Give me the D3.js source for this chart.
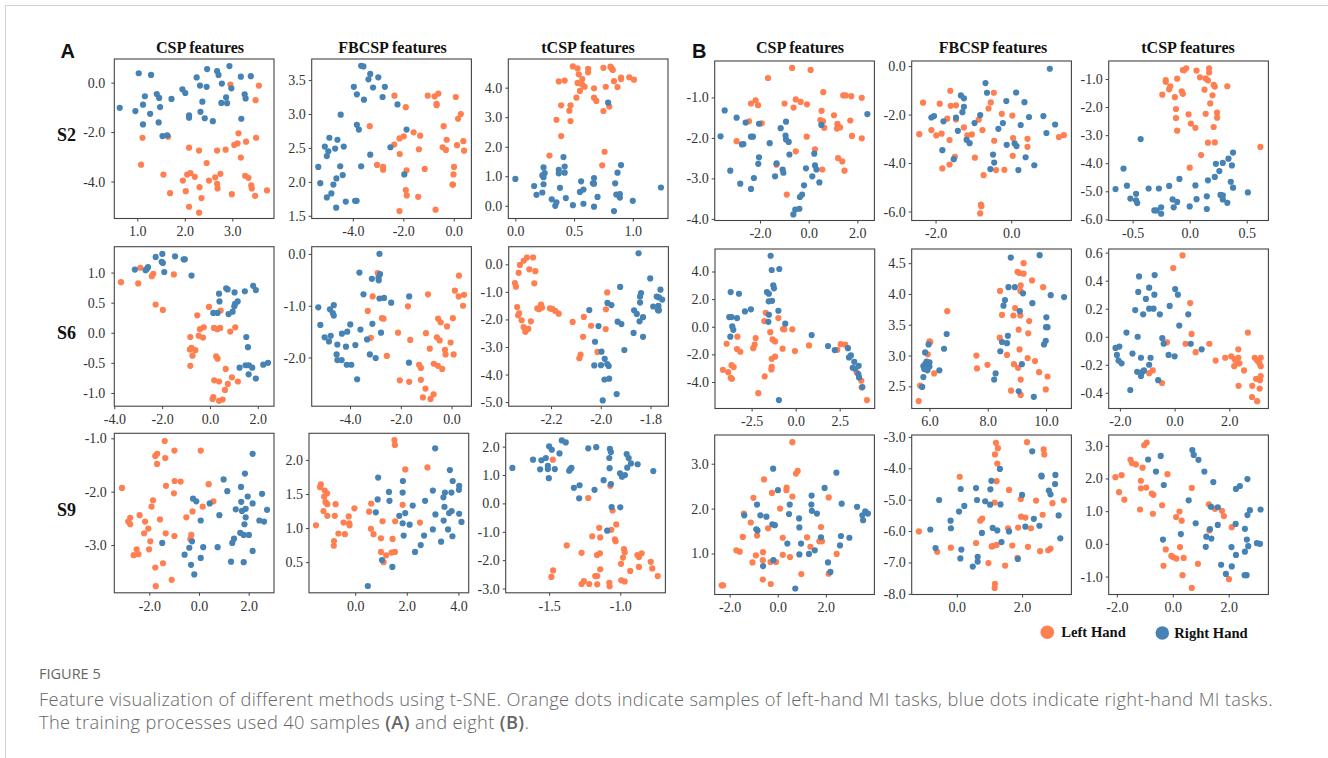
<!DOCTYPE html>
<html>
<head>
<meta charset="utf-8">
<script src="https://cdn.jsdelivr.net/npm/d3@7"></script>
<style>
  body { margin: 0; background: #fff; }
  svg { display: block; }
  .tick text { font-family: "Liberation Serif", serif; font-size: 14px; fill: #333; }
  .head { font-family: "Liberation Serif", serif; font-weight: 700; fill: #111; }
  .caption { font-family: "Open Sans", sans-serif; fill: #666; }
</style>
</head>
<body>
<div id="chart"></div>
<script>
// group A, S2
const aS2CspLeft = [[2.96,-0.08],[3.56,-0.12],[3.49,-0.71],[1.11,-2.23],[1.65,-2.19],[3.13,-2.05],[3.50,-2.23],[3.29,-2.39],[3.11,-2.46],[3.04,-2.52],[2.09,-2.63],[2.30,-2.75],[2.68,-2.75],[2.86,-2.71],[3.18,-3.03],[1.08,-3.32],[2.46,-3.25],[1.55,-3.72],[2.05,-3.72],[2.12,-3.66],[2.21,-3.81],[1.96,-3.96],[2.75,-3.69],[2.64,-3.83],[2.51,-3.96],[3.27,-3.77],[3.34,-3.85],[3.40,-4.16],[3.41,-4.28],[2.68,-4.09],[2.69,-4.28],[2.31,-4.23],[2.02,-4.39],[1.69,-4.47],[3.73,-4.36],[2.99,-4.51],[3.48,-4.58],[2.35,-4.67],[2.09,-5.02],[2.30,-5.26]];
const aS2CspRight = [[0.63,-1.02],[1.03,0.38],[1.29,0.31],[1.16,-0.55],[1.12,-0.89],[0.96,-1.15],[1.12,-1.69],[1.27,-1.26],[1.41,-0.46],[1.46,-0.62],[1.48,-0.99],[1.45,-1.61],[1.53,-2.16],[1.63,-2.13],[1.72,-0.66],[1.95,-0.27],[2.01,-0.42],[2.09,-1.32],[2.09,-1.42],[2.25,0.21],[2.32,-0.12],[2.46,-0.17],[2.47,0.55],[2.37,-0.77],[2.33,-1.18],[2.42,-1.44],[2.59,-1.56],[2.68,0.47],[2.71,0.31],[2.78,-0.04],[2.87,-0.60],[2.77,-0.82],[2.89,-0.83],[2.94,0.67],[2.98,-0.23],[3.18,0.24],[3.39,0.26],[3.26,-0.47],[3.28,-0.64],[3.19,-1.46]];
const aS2FbLeft = [[-3.33,2.82],[-3.04,2.25],[-2.35,3.27],[-1.03,3.27],[-0.76,3.26],[-0.61,3.30],[-0.68,3.15],[-0.68,3.13],[0.08,3.25],[-1.90,3.10],[0.28,3.00],[0.17,2.93],[-0.40,2.82],[-1.59,2.73],[-1.33,2.68],[-2.15,2.64],[-1.98,2.67],[-2.36,2.55],[-0.28,2.62],[-0.44,2.51],[-0.31,2.47],[0.13,2.54],[0.38,2.60],[0.41,2.46],[-1.38,2.48],[-2.14,2.41],[-2.80,2.22],[-2.80,2.18],[-1.87,2.17],[-1.15,2.19],[0.01,2.22],[-0.01,2.11],[-0.05,1.96],[-0.03,1.96],[-1.90,1.88],[-1.86,1.80],[-1.41,1.78],[-2.15,1.57],[-0.72,1.59]];
const aS2FbRight = [[-5.37,2.22],[-5.29,1.98],[-5.03,1.77],[-4.85,1.83],[-4.77,1.96],[-4.65,2.05],[-4.50,2.23],[-4.40,2.10],[-4.66,1.62],[-4.28,1.71],[-3.91,1.72],[-3.85,1.72],[-3.67,2.23],[-3.31,2.40],[-5.03,2.38],[-4.97,2.45],[-4.93,2.65],[-5.11,2.52],[-4.70,2.49],[-4.61,2.62],[-4.36,2.52],[-4.48,2.99],[-3.84,2.84],[-3.76,2.77],[-3.96,3.40],[-3.84,3.29],[-3.56,3.21],[-3.20,3.39],[-3.38,3.51],[-3.31,3.59],[-3.67,3.71],[-3.58,3.70],[-2.99,3.54],[-2.82,3.25],[-2.73,3.40],[-2.23,3.14],[-1.87,2.77],[-2.51,2.51],[-1.96,2.11]];
const aS2TLeft = [[0.49,4.72],[0.53,4.65],[0.62,4.64],[0.62,4.52],[0.54,4.45],[0.57,4.29],[0.53,4.16],[0.57,4.10],[0.59,4.03],[0.55,3.89],[0.37,4.21],[0.42,4.24],[0.75,4.67],[0.81,4.71],[0.82,4.65],[0.83,4.60],[0.84,4.22],[0.87,4.02],[0.77,4.03],[0.67,3.98],[0.90,4.34],[0.90,4.29],[0.97,4.35],[1.01,4.27],[0.52,3.66],[0.67,3.66],[0.69,3.55],[0.39,3.40],[0.47,3.40],[0.46,3.22],[0.80,3.36],[0.75,3.21],[0.35,2.91],[0.47,2.87],[0.39,2.36],[0.76,1.83],[0.29,1.70],[0.74,1.37]];
const aS2TRight = [[0.79,3.49],[0.00,0.91],[0.16,0.67],[0.18,0.37],[0.23,0.45],[0.24,1.30],[0.23,1.03],[0.25,1.11],[0.24,0.97],[0.24,0.73],[0.37,1.22],[0.37,1.10],[0.41,1.65],[0.42,1.33],[0.42,1.12],[0.38,0.61],[0.31,0.22],[0.35,0.12],[0.34,0.00],[0.43,0.26],[0.49,0.02],[0.58,0.07],[0.56,0.83],[0.55,0.47],[0.58,0.55],[0.66,0.76],[0.67,0.94],[0.67,0.75],[0.70,0.30],[0.67,-0.03],[0.84,-0.18],[0.85,0.76],[0.87,1.12],[0.90,1.38],[0.86,0.38],[0.89,0.40],[0.89,0.28],[1.00,0.17],[1.24,0.62]];
// group B, S2
const bS2CspLeft = [[-0.68,-0.27],[0.08,-0.32],[-1.67,-0.52],[0.60,-0.87],[1.42,-0.95],[1.52,-0.95],[1.75,-0.97],[2.18,-1.01],[-0.53,-1.05],[-0.33,-1.11],[-2.18,-1.07],[-2.37,-1.15],[-2.08,-1.19],[-0.99,-1.15],[-0.62,-1.25],[-0.07,-1.17],[0.53,-1.33],[1.04,-1.44],[0.48,-1.56],[0.59,-1.59],[1.71,-1.57],[1.18,-1.65],[1.16,-1.77],[1.29,-1.74],[0.64,-1.75],[-2.45,-1.59],[-1.93,-1.64],[1.78,-1.95],[2.18,-2.01],[-0.08,-1.97],[-2.96,-2.08],[0.26,-2.28],[-0.53,-2.33],[1.21,-2.50],[1.38,-2.58],[1.47,-2.81],[0.56,-2.78],[-1.32,-2.66],[-0.90,-3.40]];
const bS2CspRight = [[-3.45,-1.32],[-2.96,-1.50],[-2.59,-1.62],[-2.04,-1.65],[-3.62,-1.96],[-2.37,-1.97],[-2.29,-1.97],[-2.74,-2.16],[-2.68,-2.15],[-1.60,-2.13],[-1.15,-1.76],[-0.93,-1.60],[-0.95,-1.94],[-0.93,-2.04],[-0.82,-2.10],[-0.79,-2.41],[-2.04,-2.48],[-2.07,-2.64],[-1.32,-2.63],[-3.22,-2.81],[-2.25,-2.99],[-2.81,-3.13],[-2.37,-3.26],[-1.38,-2.95],[-1.07,-2.78],[-1.04,-2.86],[-0.11,-2.75],[0.23,-2.39],[0.26,-2.68],[0.32,-2.78],[0.15,-2.95],[0.44,-3.10],[-0.19,-3.17],[-0.27,-3.40],[-0.36,-3.46],[-0.55,-3.77],[-0.38,-3.75],[-0.63,-3.89],[0.52,-1.68],[2.41,-1.41]];
const bS2FbLeft = [[-2.43,-2.81],[-2.33,-1.51],[-1.89,-1.55],[-1.61,-1.02],[-1.60,-1.64],[-1.46,-1.62],[-2.11,-2.64],[-1.98,-2.86],[-1.84,-2.79],[-1.69,-2.17],[-1.46,-2.20],[-1.25,-2.53],[-1.16,-2.86],[-1.04,-2.82],[-1.63,-3.05],[-1.82,-4.22],[-1.63,-4.06],[-1.49,-3.74],[-0.96,-3.78],[-0.76,-2.64],[-0.86,-2.21],[-0.60,-1.75],[-0.54,-1.50],[-0.46,-1.10],[-0.25,-1.97],[0.03,-2.04],[-0.45,-3.08],[-0.73,-4.50],[-0.40,-4.29],[-0.18,-4.28],[-0.80,-5.71],[-0.79,-5.78],[-0.82,-6.08],[0.05,-2.97],[0.43,-3.00],[0.43,-3.33],[0.04,-3.70],[1.26,-2.93],[1.39,-2.85]];
const bS2FbRight = [[-0.68,-0.70],[-0.64,-1.10],[-1.33,-1.21],[-1.25,-1.33],[-1.25,-1.68],[-1.29,-1.90],[-1.46,-2.13],[-2.11,-2.12],[-2.04,-2.06],[-1.79,-2.28],[-1.41,-2.67],[-0.97,-2.35],[-0.82,-2.02],[-1.18,-3.04],[-1.10,-3.18],[-0.22,-2.35],[-0.34,-2.59],[-0.13,-1.44],[-0.12,-3.25],[-1.82,-3.47],[-1.52,-3.84],[-0.48,-3.65],[-0.45,-3.98],[-0.55,-4.25],[1.02,-0.11],[0.13,-1.09],[0.35,-1.49],[0.47,-2.10],[0.85,-2.06],[1.16,-2.41],[0.93,-2.76],[0.25,-2.43],[0.09,-3.19],[0.14,-3.30],[0.38,-3.76],[0.61,-4.09],[0.19,-4.29]];
const bS2TLeft = [[-0.06,-0.68],[-0.03,-0.62],[-0.05,-0.69],[0.06,-0.70],[0.17,-0.62],[0.17,-0.77],[0.09,-0.94],[0.14,-0.98],[0.16,-1.05],[0.21,-1.21],[0.22,-1.27],[0.33,-1.26],[-0.11,-0.99],[-0.21,-1.04],[-0.21,-1.10],[-0.17,-1.26],[-0.18,-1.37],[-0.07,-1.44],[-0.06,-1.53],[-0.24,-1.56],[-0.13,-1.65],[0.13,-1.38],[0.20,-1.58],[0.18,-1.87],[-0.12,-2.07],[-0.01,-2.26],[-0.12,-2.39],[0.14,-2.24],[0.24,-2.20],[0.24,-2.38],[0.01,-2.59],[0.05,-2.74],[0.21,-2.71],[-0.11,-2.84],[0.16,-3.27],[0.22,-3.26],[0.62,-3.42],[0.10,-3.71],[0.00,-4.16]];
const bS2TRight = [[-0.43,-3.14],[-0.58,-4.19],[-0.65,-4.92],[-0.55,-4.80],[-0.52,-5.26],[-0.47,-5.32],[-0.46,-5.42],[-0.47,-5.09],[-0.36,-4.90],[-0.27,-4.90],[-0.18,-4.81],[-0.09,-4.56],[0.05,-4.79],[0.16,-4.61],[0.22,-4.49],[0.26,-4.28],[0.23,-4.02],[0.29,-3.99],[0.34,-3.84],[0.38,-3.62],[0.37,-4.08],[0.36,-4.66],[0.38,-4.87],[0.51,-5.04],[-0.15,-5.29],[-0.11,-5.38],[-0.14,-5.57],[0.00,-5.54],[0.06,-5.28],[0.15,-5.18],[0.15,-5.63],[0.27,-5.13],[0.29,-5.14],[0.29,-5.29],[0.33,-5.41],[-0.25,-5.57],[-0.25,-5.80],[-0.31,-5.68],[-0.29,-5.68]];
// group A, S6
const aS6CspLeft = [[-2.91,1.08],[-3.72,0.84],[-3.00,0.82],[-2.37,0.98],[-2.43,0.94],[-1.51,0.97],[-2.27,0.47],[-1.97,0.38],[-0.04,0.43],[0.45,0.37],[-0.53,0.29],[-0.42,0.06],[-0.26,0.09],[0.17,0.08],[0.31,0.06],[0.43,0.08],[0.85,0.02],[1.06,0.09],[-0.82,-0.07],[-0.47,-0.05],[-0.29,-0.08],[-0.84,-0.28],[-0.77,-0.25],[-0.61,-0.29],[-0.73,-0.38],[-0.82,-0.55],[0.26,-0.39],[0.32,-0.43],[0.66,-0.60],[0.18,-0.79],[0.38,-0.81],[0.92,-0.74],[0.75,-0.85],[1.17,-0.81],[0.63,-0.95],[0.14,-1.07],[0.11,-1.10],[0.38,-1.13],[0.53,-1.11]];
const aS6CspRight = [[-3.14,1.05],[-2.27,1.26],[-1.99,1.31],[-2.02,1.18],[-1.97,1.16],[-1.46,1.27],[-1.10,1.22],[-1.05,1.22],[-1.91,1.01],[-2.69,1.04],[-2.59,1.09],[-2.64,1.06],[-0.77,0.95],[0.38,0.65],[0.68,0.74],[0.74,0.72],[1.03,0.67],[1.46,0.69],[1.81,0.78],[1.92,0.71],[0.40,0.52],[1.16,0.52],[1.05,0.48],[1.02,0.44],[0.14,0.33],[0.32,0.33],[0.78,0.31],[0.95,0.35],[1.52,-0.07],[1.59,-0.24],[1.24,-0.58],[1.49,-0.54],[1.63,-0.54],[1.77,-0.58],[2.23,-0.53],[2.43,-0.50],[1.62,-0.69],[1.92,-0.76]];
const aS6FbLeft = [[-2.91,-0.37],[-3.11,-0.82],[-3.30,-1.10],[-2.74,-1.24],[-2.68,-1.25],[-1.72,-1.01],[-0.93,-0.78],[0.29,-0.42],[0.13,-0.71],[0.28,-0.82],[0.49,-0.79],[0.45,-1.00],[0.05,-1.24],[-0.53,-1.25],[-0.43,-1.32],[-0.18,-1.40],[-3.18,-1.62],[-2.11,-1.52],[-1.63,-1.66],[-1.01,-1.53],[-0.58,-1.61],[-0.47,-1.67],[-0.04,-1.71],[-0.86,-1.83],[-0.26,-1.85],[-0.24,-1.94],[0.08,-1.94],[-2.55,-1.97],[-1.28,-2.14],[-1.21,-2.20],[-0.70,-2.12],[-0.54,-2.16],[-0.37,-2.22],[-2.04,-2.44],[-1.67,-2.47],[-1.21,-2.43],[-1.03,-2.60],[-1.13,-2.77],[-0.71,-2.71],[-0.83,-2.80]];
const aS6FbRight = [[-2.84,0.00],[-3.63,-0.36],[-3.14,-0.48],[-2.88,-0.46],[-2.82,-0.39],[-2.87,-0.51],[-3.47,-0.78],[-2.84,-0.86],[-2.66,-0.85],[-2.38,-0.94],[-1.67,-0.82],[-5.25,-1.03],[-4.64,-0.99],[-4.79,-1.07],[-4.68,-1.14],[-4.64,-1.19],[-5.17,-1.37],[-3.99,-1.36],[-3.12,-1.35],[-3.59,-1.46],[-4.11,-1.50],[-4.32,-1.54],[-2.78,-1.52],[-5.00,-1.61],[-4.76,-1.58],[-4.83,-1.69],[-3.33,-1.65],[-4.50,-1.75],[-4.16,-1.79],[-3.79,-1.76],[-4.53,-1.94],[-4.50,-2.05],[-4.33,-2.05],[-4.13,-2.14],[-3.95,-2.14],[-3.22,-1.94],[-2.99,-2.01],[-3.72,-2.42],[-1.68,-2.10]];
const aS6TLeft = [[-2.345,-0.68],[-2.341,-0.81],[-2.330,-0.31],[-2.325,-0.02],[-2.310,0.13],[-2.297,0.24],[-2.272,0.25],[-2.287,-0.18],[-2.263,-0.25],[-2.267,-0.69],[-2.336,-1.55],[-2.328,-1.78],[-2.332,-1.85],[-2.318,-2.03],[-2.310,-2.28],[-2.303,-2.45],[-2.291,-2.34],[-2.281,-2.07],[-2.255,-1.60],[-2.248,-1.63],[-2.240,-1.46],[-2.236,-1.57],[-2.204,-1.60],[-2.195,-1.62],[-2.183,-1.69],[-2.169,-1.79],[-2.113,-2.09],[-2.068,-1.91],[-2.039,-2.23],[-2.071,-2.63],[-2.081,-3.28],[-2.086,-3.41],[-2.013,-3.18],[-1.979,-1.63],[-1.974,-1.02],[-1.980,-2.35]];
const aS6TRight = [[-1.848,0.40],[-1.801,-0.51],[-1.922,-0.82],[-1.760,-0.92],[-1.838,-1.04],[-1.842,-1.17],[-1.775,-1.17],[-1.766,-1.20],[-1.753,-1.28],[-1.842,-1.39],[-1.973,-1.40],[-1.957,-1.48],[-1.789,-1.53],[-1.768,-1.51],[-1.770,-1.67],[-1.766,-1.67],[-2.046,-1.66],[-1.866,-1.67],[-1.855,-1.80],[-1.830,-1.92],[-1.844,-2.07],[-1.932,-2.08],[-1.917,-2.17],[-2.009,-2.24],[-1.868,-2.49],[-1.830,-2.63],[-2.023,-2.81],[-1.997,-3.17],[-1.905,-3.11],[-1.984,-3.43],[-2.026,-3.67],[-1.999,-3.66],[-1.974,-3.62],[-1.968,-3.69],[-1.985,-4.18],[-1.966,-4.15],[-1.936,-4.71],[-1.992,-4.94]];
// group B, S6
const bS6CspLeft = [[-1.70,1.01],[-1.78,0.41],[-0.98,0.63],[-0.72,-0.17],[-0.64,-0.19],[-0.19,-0.19],[-1.44,-0.39],[-3.31,-0.72],[-2.27,-0.82],[-1.31,-0.92],[-1.17,-1.06],[-3.92,-1.23],[-2.33,-1.30],[-2.41,-1.55],[-3.33,-1.62],[-3.14,-1.81],[-0.74,-1.59],[-0.04,-1.76],[0.76,-1.35],[2.56,-1.26],[2.82,-1.30],[2.37,-1.67],[-1.17,-2.17],[-1.36,-2.32],[-3.64,-2.78],[-3.52,-2.92],[-4.13,-3.12],[-3.83,-3.29],[-3.69,-3.70],[-3.62,-3.77],[-1.36,-2.90],[-1.38,-3.09],[-1.76,-3.60],[-2.12,-4.81],[3.47,-3.31],[3.73,-3.91],[3.75,-4.40],[4.05,-5.31]];
const bS6CspRight = [[-1.42,5.14],[-1.36,4.11],[-0.93,4.18],[-1.27,3.00],[-1.23,2.78],[-3.69,2.51],[-3.22,2.39],[-1.63,2.51],[-1.52,2.39],[-1.53,1.84],[-1.34,1.88],[-2.88,1.11],[-2.54,1.26],[-0.98,1.16],[-1.52,0.87],[-1.55,0.36],[-0.59,0.22],[-3.77,0.70],[-3.64,0.70],[-3.33,0.63],[-3.60,0.02],[-3.54,-0.22],[-3.71,-0.72],[0.91,-0.60],[1.84,-1.40],[2.22,-1.69],[2.97,-1.55],[3.14,-2.08],[3.03,-2.22],[3.33,-2.54],[3.24,-2.97],[3.37,-3.04],[3.58,-2.83],[3.56,-3.43],[3.60,-3.67],[3.79,-4.37],[-0.95,-5.31]];
const bS6FbLeft = [[9.23,4.50],[9.02,4.36],[9.09,4.34],[9.23,4.33],[9.52,4.22],[9.90,4.11],[9.13,4.14],[9.12,4.05],[8.42,4.05],[8.94,3.77],[8.88,3.65],[9.12,3.65],[8.49,3.66],[9.42,3.56],[9.06,3.42],[9.39,3.36],[8.41,3.29],[6.61,3.72],[6.00,3.23],[5.94,3.02],[9.09,3.10],[8.66,3.01],[9.37,2.96],[9.62,2.91],[7.61,3.00],[7.63,2.79],[7.99,2.85],[8.90,2.86],[9.04,2.80],[9.76,2.73],[10.05,2.66],[9.13,2.61],[6.16,2.71],[5.68,2.51],[5.63,2.26],[8.80,2.43],[9.99,2.45],[9.13,2.36],[6.03,3.22]];
const bS6FbRight = [[8.79,4.59],[9.78,4.63],[8.71,4.11],[8.93,4.11],[9.21,4.01],[9.53,3.85],[10.16,3.98],[10.62,3.95],[8.59,3.90],[8.54,3.81],[9.10,3.72],[10.01,3.62],[10.00,3.46],[10.05,3.46],[9.99,3.24],[9.93,3.18],[8.69,3.32],[8.49,3.22],[8.66,3.20],[8.43,3.07],[9.17,2.86],[8.27,2.71],[8.22,2.61],[9.06,2.42],[9.58,2.33],[6.59,3.35],[6.50,3.11],[5.97,3.18],[5.85,3.05],[6.34,2.76],[5.90,2.90],[6.00,2.89],[5.79,2.83],[5.85,2.86],[5.93,2.84],[5.82,2.78],[5.93,2.76],[6.00,2.82],[5.79,2.65],[5.75,2.49]];
const bS6TLeft = [[0.29,0.58],[-0.05,0.49],[0.57,0.24],[0.62,0.02],[2.68,0.03],[-0.28,-0.04],[0.40,-0.05],[1.27,-0.05],[0.77,-0.11],[2.33,-0.09],[1.50,-0.17],[1.85,-0.15],[2.07,-0.14],[2.20,-0.16],[2.33,-0.15],[2.24,-0.17],[2.37,-0.19],[2.18,-0.21],[2.33,-0.19],[2.54,-0.24],[2.34,-0.35],[2.84,-0.35],[2.93,-0.15],[3.15,-0.15],[3.02,-0.17],[3.10,-0.19],[3.15,-0.21],[3.15,-0.28],[2.98,-0.30],[3.12,-0.31],[3.11,-0.37],[2.83,-0.43],[3.02,-0.46],[-0.80,-0.24],[-0.93,-0.26],[-0.46,-0.33]];
const bS6TRight = [[-0.73,0.44],[-1.30,0.43],[-0.93,0.35],[-1.33,0.32],[0.02,0.34],[0.12,0.30],[-0.74,0.30],[-1.05,0.27],[-0.18,0.22],[-1.44,0.19],[-0.93,0.20],[-0.77,0.20],[-1.15,0.16],[-0.54,0.16],[0.50,0.16],[0.17,0.08],[-1.76,0.03],[-1.35,0.00],[-0.45,-0.01],[-0.40,-0.05],[0.59,-0.05],[0.99,-0.09],[-2.16,-0.08],[-2.02,-0.07],[-2.11,-0.13],[-1.54,-0.12],[-1.23,-0.15],[-0.88,-0.15],[-0.22,-0.13],[0.00,-0.14],[-2.05,-0.17],[-1.94,-0.19],[-0.93,-0.20],[-1.12,-0.24],[-1.37,-0.25],[-1.17,-0.25],[-1.23,-0.28],[-0.60,-0.31],[-1.62,-0.38]];
// group A, S9
const aS9CspLeft = [[-1.38,-1.05],[-0.99,-1.23],[0.07,-1.23],[-1.76,-1.33],[-1.68,-1.29],[-1.36,-1.37],[-1.69,-1.48],[-3.10,-1.93],[-1.33,-1.89],[-0.98,-1.80],[-0.74,-1.81],[-1.01,-2.03],[0.39,-1.86],[-1.85,-2.16],[-1.91,-2.28],[0.58,-2.18],[0.15,-2.28],[-0.26,-2.37],[-0.51,-2.48],[-2.39,-2.44],[-2.77,-2.49],[-1.57,-2.52],[-2.85,-2.56],[-2.77,-2.61],[-2.17,-2.56],[-2.04,-2.69],[-2.21,-2.78],[-1.34,-2.78],[-0.99,-2.83],[-0.31,-2.81],[-0.35,-2.89],[-1.96,-2.93],[-2.51,-3.08],[-2.01,-3.08],[-2.63,-3.19],[-2.44,-3.17],[-1.45,-3.34],[-1.76,-3.42],[-1.10,-3.65],[-1.74,-3.77]];
const aS9CspRight = [[2.16,-1.29],[1.85,-1.66],[0.99,-1.77],[1.69,-1.91],[1.14,-1.99],[2.54,-2.04],[1.96,-2.09],[-0.24,-2.13],[-0.11,-2.18],[0.43,-2.22],[1.70,-2.19],[2.16,-2.22],[1.48,-2.33],[1.73,-2.36],[1.88,-2.32],[2.74,-2.34],[0.82,-2.44],[1.88,-2.48],[2.43,-2.54],[2.62,-2.56],[0.07,-2.54],[1.83,-2.61],[1.66,-2.77],[1.80,-2.81],[2.01,-2.81],[1.41,-2.88],[1.34,-2.96],[-0.28,-2.93],[-1.48,-2.96],[0.75,-3.04],[0.17,-3.04],[-0.39,-3.05],[2.16,-3.11],[-0.58,-3.18],[0.07,-3.24],[-0.32,-3.37],[1.29,-3.31],[1.80,-3.32],[-0.19,-3.55]];
const aS9FbLeft = [[1.52,2.29],[1.54,2.22],[1.94,1.86],[2.80,1.89],[-1.33,1.64],[-1.36,1.60],[-1.18,1.55],[-1.09,1.51],[-1.20,1.46],[-1.15,1.38],[-1.08,1.35],[-0.76,1.35],[-0.03,1.29],[0.62,1.36],[0.54,1.24],[1.84,1.34],[-1.23,1.25],[-1.08,1.18],[-0.79,1.18],[-0.25,1.17],[-0.45,1.08],[-0.23,1.07],[-0.22,1.04],[-1.52,1.04],[1.06,1.10],[1.55,1.10],[2.51,1.08],[-0.65,0.92],[-0.40,0.91],[0.61,0.99],[0.71,0.91],[-0.82,0.81],[-0.83,0.74],[1.00,0.85],[1.45,0.84],[1.00,0.65],[1.20,0.60],[1.41,0.64],[1.54,0.65],[1.10,0.50]];
const aS9FbRight = [[0.49,0.15],[1.04,0.53],[1.44,0.43],[3.10,2.17],[3.67,1.85],[0.89,1.74],[1.85,1.69],[3.78,1.69],[4.03,1.62],[4.02,1.56],[3.01,1.55],[1.31,1.53],[1.84,1.52],[3.48,1.52],[3.73,1.52],[0.87,1.42],[1.33,1.40],[2.71,1.40],[3.42,1.45],[2.23,1.33],[3.46,1.31],[0.80,1.23],[1.94,1.22],[1.71,1.18],[3.11,1.20],[3.64,1.22],[3.74,1.25],[4.03,1.21],[3.43,1.11],[1.84,1.07],[2.11,1.05],[4.12,1.09],[3.01,0.98],[3.60,0.98],[3.77,0.88],[1.88,0.89],[2.67,0.89],[3.33,0.80],[2.54,0.75],[2.32,0.65]];
const aS9TLeft = [[-1.474,1.54],[-1.070,0.62],[-1.225,0.19],[-1.054,-0.25],[-1.028,-0.74],[-1.148,-0.86],[-1.063,-0.93],[-1.197,-1.16],[-1.141,-1.20],[-1.038,-1.27],[-1.033,-1.33],[-1.376,-1.48],[-0.974,-1.61],[-0.969,-1.72],[-1.272,-1.74],[-1.164,-1.82],[-1.143,-1.76],[-0.981,-1.91],[-0.880,-1.82],[-0.869,-1.89],[-0.850,-1.76],[-0.786,-2.06],[-0.995,-2.13],[-0.869,-2.24],[-0.775,-2.29],[-1.141,-2.32],[-0.930,-2.38],[-1.472,-2.36],[-1.484,-2.59],[-1.176,-2.56],[-1.162,-2.56],[-0.737,-2.56],[-0.993,-2.71],[-0.969,-2.75],[-1.256,-2.74],[-1.272,-2.84],[-1.218,-2.84],[-1.162,-2.85],[-1.077,-2.80],[-1.075,-2.92]];
const aS9TRight = [[-1.758,1.25],[-1.613,1.54],[-1.554,1.52],[-1.523,1.60],[-1.500,2.01],[-1.481,1.89],[-1.411,2.22],[-1.383,2.15],[-1.427,1.76],[-1.563,1.20],[-1.509,1.32],[-1.509,1.21],[-1.460,1.21],[-1.502,0.89],[-1.359,1.15],[-1.343,1.25],[-1.352,1.20],[-1.225,1.94],[-1.169,1.98],[-1.073,1.92],[-1.066,1.81],[-1.077,1.60],[-1.075,1.24],[-1.117,0.82],[-1.066,0.68],[-1.326,0.55],[-1.286,0.64],[-1.181,0.48],[-1.289,0.18],[-1.061,-0.13],[-1.000,-0.14],[-1.092,-0.96],[-0.955,1.74],[-0.941,1.60],[-0.925,1.41],[-0.878,1.38],[-0.951,1.26],[-0.768,1.14],[-1.002,1.06],[-0.988,0.94],[-0.967,1.00]];
// group B, S9
const bS9CspLeft = [[0.61,3.48],[0.76,2.78],[0.83,2.84],[-0.57,2.65],[0.37,2.47],[0.36,2.41],[-0.24,2.35],[0.61,2.27],[-1.01,2.24],[2.12,2.25],[0.10,2.00],[-1.41,1.89],[-1.12,1.69],[-0.40,1.56],[1.80,1.59],[-1.45,1.37],[-0.86,1.40],[0.21,1.35],[1.22,1.36],[1.73,1.27],[1.84,1.27],[1.36,1.15],[-1.72,1.07],[-1.58,1.04],[-0.61,1.03],[-0.91,0.96],[0.21,0.97],[0.51,0.92],[2.45,0.99],[-0.62,0.85],[-1.05,0.80],[-0.30,0.81],[-0.07,0.81],[0.98,0.54],[2.12,0.55],[-0.62,0.42],[-0.29,0.32],[-2.33,0.29],[-2.27,0.29]];
const bS9CspRight = [[-0.19,2.89],[2.44,2.80],[0.01,2.41],[1.95,2.46],[1.41,2.29],[-0.86,2.09],[0.50,2.09],[1.40,2.09],[2.66,2.11],[3.30,2.04],[0.47,1.88],[1.42,1.95],[1.63,1.89],[-1.39,1.85],[-0.72,1.85],[-0.47,1.82],[0.89,1.78],[3.64,1.94],[3.75,1.89],[3.52,1.85],[3.55,1.74],[-0.22,1.65],[-0.12,1.63],[0.90,1.58],[-0.89,1.54],[-0.84,1.51],[2.63,1.39],[2.98,1.35],[1.80,1.36],[0.40,1.22],[0.97,1.22],[2.59,1.18],[1.54,1.07],[0.90,0.98],[1.30,0.99],[-0.18,0.85],[-0.61,0.72],[2.09,0.80],[2.19,0.59],[0.73,0.22]];
const bS9FbLeft = [[1.20,-3.19],[2.15,-3.17],[1.26,-3.36],[2.66,-3.40],[2.68,-3.56],[1.17,-3.56],[1.24,-3.85],[0.09,-4.27],[1.22,-4.41],[1.60,-4.69],[1.96,-4.98],[2.43,-5.03],[1.16,-5.09],[2.93,-5.11],[3.28,-5.02],[2.63,-5.48],[1.97,-5.54],[2.10,-5.57],[0.78,-5.60],[0.72,-5.67],[-1.16,-6.01],[1.57,-5.91],[1.88,-5.89],[2.27,-5.91],[0.59,-6.38],[1.07,-6.49],[1.22,-6.44],[1.10,-6.48],[1.70,-6.46],[2.18,-6.50],[2.55,-6.64],[2.80,-6.61],[2.87,-6.56],[-0.60,-6.66],[-0.18,-6.53],[0.97,-7.02],[1.86,-6.85],[1.48,-7.10],[1.17,-7.68],[1.16,-7.81]];
const bS9FbRight = [[2.31,-3.46],[1.32,-4.02],[2.60,-4.26],[2.59,-4.23],[3.02,-4.21],[1.06,-4.40],[3.01,-4.50],[0.12,-4.66],[0.59,-4.63],[1.03,-4.67],[2.82,-4.71],[2.87,-4.83],[-0.54,-5.01],[2.00,-4.85],[0.62,-5.01],[0.87,-5.05],[1.02,-5.16],[1.34,-5.15],[0.23,-5.20],[0.07,-5.38],[3.12,-5.50],[-0.19,-5.67],[2.36,-5.61],[2.53,-5.83],[-0.18,-5.91],[-0.81,-5.95],[1.10,-5.90],[1.24,-5.98],[1.60,-6.01],[2.10,-5.86],[0.77,-6.06],[3.17,-6.23],[1.37,-6.35],[-0.65,-6.54],[0.14,-6.59],[0.11,-6.87],[0.64,-6.82],[0.64,-6.97],[0.49,-7.13],[1.87,-6.89]];
const bS9TLeft = [[-0.93,3.10],[-1.02,3.02],[-1.51,2.57],[-1.46,2.47],[-1.32,2.43],[-1.08,2.33],[-2.05,2.04],[-1.83,2.10],[-0.19,2.13],[-1.14,1.93],[-1.14,1.70],[-0.95,1.72],[0.68,1.71],[-0.75,1.54],[-0.69,1.50],[-1.92,1.58],[-1.73,1.35],[-0.38,1.18],[-1.17,1.05],[-0.71,0.92],[0.24,0.99],[0.12,0.82],[0.32,0.71],[1.29,1.21],[1.51,1.07],[1.76,1.01],[1.83,0.85],[2.11,0.51],[1.31,0.41],[0.26,-0.10],[-0.25,-0.17],[-0.05,-0.37],[0.02,-0.41],[0.13,-0.45],[0.39,-0.43],[-0.33,-0.67],[0.90,-0.61],[0.35,-0.96],[2.01,-1.08],[0.68,-1.35]];
const bS9TRight = [[-0.88,2.58],[-0.43,2.69],[-0.60,2.21],[-0.32,1.80],[0.70,2.87],[0.75,2.72],[0.92,2.57],[1.13,2.21],[1.45,1.89],[2.67,1.98],[2.40,1.77],[2.26,1.68],[0.57,1.33],[1.37,1.13],[1.61,1.12],[2.76,1.03],[3.14,1.05],[2.67,0.88],[0.82,0.63],[2.25,0.61],[1.61,0.58],[1.33,0.45],[2.58,0.46],[0.29,0.30],[-0.35,0.13],[1.20,0.22],[1.38,0.16],[2.65,0.13],[3.01,0.02],[3.12,0.00],[1.18,-0.09],[2.10,-0.10],[2.70,-0.07],[2.26,-0.34],[2.58,-0.24],[1.73,-0.64],[2.11,-0.69],[1.90,-0.92],[2.57,-0.96],[2.64,-0.96]];

const methods = ["CSP features", "FBCSP features", "tCSP features"];
const subjects = ["S2", "S6", "S9"];
const seriesNames = ["Left Hand", "Right Hand"];
const captionLines = [
  "Feature visualization of different methods using t-SNE. Orange dots indicate samples of left-hand MI tasks, blue dots indicate right-hand MI tasks.",
  "The training processes used 40 samples ",
];

// axis limits and ticks, same order as the panels table below
const xLimits = [[0.516,3.878],[-5.63,0.70],[-0.06,1.30],[-3.86,2.70],[-2.63,1.59],[-0.71,0.69],
  [-4.0,2.68],[-5.51,0.78],[-2.370,-1.728],[-4.58,4.49],[5.39,10.87],[-2.41,3.43],
  [-3.41,3.02],[-1.79,4.40],[-1.805,-0.683],[-2.62,4.02],[-1.38,3.51],[-2.29,3.42]];
const yLimits = [[-5.496,0.956],[1.46,3.81],[-0.43,4.97],[-4.04,-0.10],[-6.37,0.21],[-6.04,-0.36],
  [-1.22,1.43],[-2.94,0.14],[-5.15,0.64],[-5.92,5.63],[2.14,4.73],[-0.512,0.626],
  [-3.894,-0.906],[0.05,2.39],[-3.15,2.47],[0.086,3.64],[-8.02,-2.94],[-1.55,3.33]];
const xTickSets = [[1,2,3],[-4,-2,0],[0,0.5,1],[-2,0,2],[-2,0],[-0.5,0,0.5],
  [-4,-2,0,2],[-4,-2,0],[-2.2,-2,-1.8],[-2.5,0,2.5],[6,8,10],[-2,0,2],
  [-2,0,2],[0,2,4],[-1.5,-1],[-2,0,2],[0,2],[-2,0,2]];
const yTickSets = [[0,-2,-4],[1.5,2,2.5,3,3.5],[0,1,2,3,4],[-1,-2,-3,-4],[0,-2,-4,-6],[-1,-2,-3,-4,-5,-6],
  [1,0.5,0,-0.5,-1],[0,-1,-2],[0,-1,-2,-3,-4,-5],[4,2,0,-2,-4],[4.5,4,3.5,3,2.5],[0.6,0.4,0.2,0,-0.2,-0.4],
  [-1,-2,-3],[2,1.5,1,0.5],[2,1,0,-1,-2,-3],[3,2,1],[-3,-4,-5,-6,-7,-8],[3,2,1,0,-1]];

const leftSets = [aS2CspLeft,aS2FbLeft,aS2TLeft,bS2CspLeft,bS2FbLeft,bS2TLeft,
  aS6CspLeft,aS6FbLeft,aS6TLeft,bS6CspLeft,bS6FbLeft,bS6TLeft,
  aS9CspLeft,aS9FbLeft,aS9TLeft,bS9CspLeft,bS9FbLeft,bS9TLeft];
const rightSets = [aS2CspRight,aS2FbRight,aS2TRight,bS2CspRight,bS2FbRight,bS2TRight,
  aS6CspRight,aS6FbRight,aS6TRight,bS6CspRight,bS6FbRight,bS6TRight,
  aS9CspRight,aS9FbRight,aS9TRight,bS9CspRight,bS9FbRight,bS9TRight];

// layout, pixels
const width = 1328, height = 758;
const panelW = 159.7, panelH = 159.5, dotR = 3.1;
const colours = { left: "#ff7f50", right: "#4682b4", spine: "#444" };
const panelLeft = [
  [114.3,311.7,508.3,714.7,911.7,1108.7],
  [114.3,311.7,508.7,715,911.7,1108.7],
  [114.3,309,505.7,714.7,911.7,1108.7],
];
const panelTop = [[59,59,59,61,61,61],[246.7,246.7,246.7,249,249,249],[433.3,433.3,433.3,435,435,435]];
const titleX = [200,392.5,588,800,993,1188];
const subjectY = [135,333,510];
// the first column of group A sits a bit further from its labels
const yPadFirstCol = [6, 6, 4.5];

const svg = d3.select("#chart").append("svg").attr("width", width).attr("height", height);

// page frame around the figure
svg.append("line").attr("x1", 5.5).attr("x2", 5.5).attr("y1", 5.5).attr("y2", height).attr("stroke", "#d0d0d0");
svg.append("line").attr("x1", 5.5).attr("x2", width).attr("y1", 5.5).attr("y2", 5.5).attr("stroke", "#d0d0d0");

const fmt = (d) => d.toFixed(1);

function drawPanel(i) {
  const row = Math.floor(i / 6), col = i % 6;
  const g = svg.append("g")
    .attr("class", "panel")
    .attr("transform", `translate(${panelLeft[row][col]},${panelTop[row][col]})`);
  const x = d3.scaleLinear().domain(xLimits[i]).range([0, panelW]);
  const y = d3.scaleLinear().domain(yLimits[i]).range([panelH, 0]);
  const yPad = col === 0 ? yPadFirstCol[row] : 3;

  const xAxis = g.append("g")
    .attr("transform", `translate(0,${panelH})`)
    .call(d3.axisBottom(x).tickValues(xTickSets[i]).tickFormat(fmt).tickSize(3).tickPadding(5));
  const yAxis = g.append("g")
    .call(d3.axisLeft(y).tickValues(yTickSets[i]).tickFormat(fmt).tickSize(3).tickPadding(yPad));
  [xAxis, yAxis].forEach((a) => {
    a.select(".domain").remove();
    a.selectAll("line").attr("stroke", colours.spine);
  });

  g.append("rect")
    .attr("width", panelW).attr("height", panelH)
    .attr("fill", "none").attr("stroke", colours.spine).attr("stroke-width", 1.1);

  g.append("g").selectAll("circle").data(leftSets[i]).join("circle")
    .attr("cx", (d) => x(d[0])).attr("cy", (d) => y(d[1])).attr("r", dotR).attr("fill", colours.left);
  g.append("g").selectAll("circle").data(rightSets[i]).join("circle")
    .attr("cx", (d) => x(d[0])).attr("cy", (d) => y(d[1])).attr("r", dotR).attr("fill", colours.right);
}

d3.range(18).forEach(drawPanel);

// column titles, group letters, subject labels
svg.append("g").selectAll("text").data(titleX).join("text")
  .attr("class", "head").attr("x", (d) => d).attr("y", 52.5)
  .attr("text-anchor", "middle").attr("font-size", 16)
  .text((d, i) => methods[i % 3]);

svg.append("g").selectAll("text").data(["A", "B"]).join("text")
  .attr("x", (d, i) => (i ? 692 : 60.5)).attr("y", 57.5)
  .attr("font-family", "Liberation Sans, sans-serif").attr("font-weight", 700)
  .attr("font-size", 20).attr("fill", "#111")
  .text((d) => d);

svg.append("g").selectAll("text").data(subjects).join("text")
  .attr("class", "head").attr("x", 57).attr("y", (d, i) => subjectY[i] + 6)
  .attr("font-size", 18)
  .text((d) => d);

// legend
const legend = svg.append("g").selectAll("g").data(seriesNames).join("g")
  .attr("transform", (d, i) => (i ? "translate(1162.3,633)" : "translate(1047.3,632.3)"));
legend.append("circle").attr("r", 6.8).attr("fill", (d, i) => (i ? colours.right : colours.left));
legend.append("text").attr("class", "head").attr("x", (d, i) => (i ? 12 : 14)).attr("y", 5)
  .attr("font-size", 14.6).text((d) => d);

// caption
svg.append("text").attr("class", "caption").attr("x", 39).attr("y", 679)
  .attr("font-size", 14.5).text("FIGURE 5");
svg.append("text").attr("class", "caption").attr("x", 39).attr("y", 706)
  .attr("font-size", 18.28).attr("font-weight", 300).attr("letter-spacing", 0.34).text(captionLines[0]);
const last = svg.append("text").attr("class", "caption").attr("x", 39).attr("y", 729)
  .attr("font-size", 18.28).attr("font-weight", 300).attr("letter-spacing", 0.34);
last.append("tspan").text(captionLines[1]);
last.append("tspan").attr("font-weight", 600).text("(A)");
last.append("tspan").text(" and eight ");
last.append("tspan").attr("font-weight", 600).text("(B)");
last.append("tspan").text(".");
</script>
</body>
</html>
